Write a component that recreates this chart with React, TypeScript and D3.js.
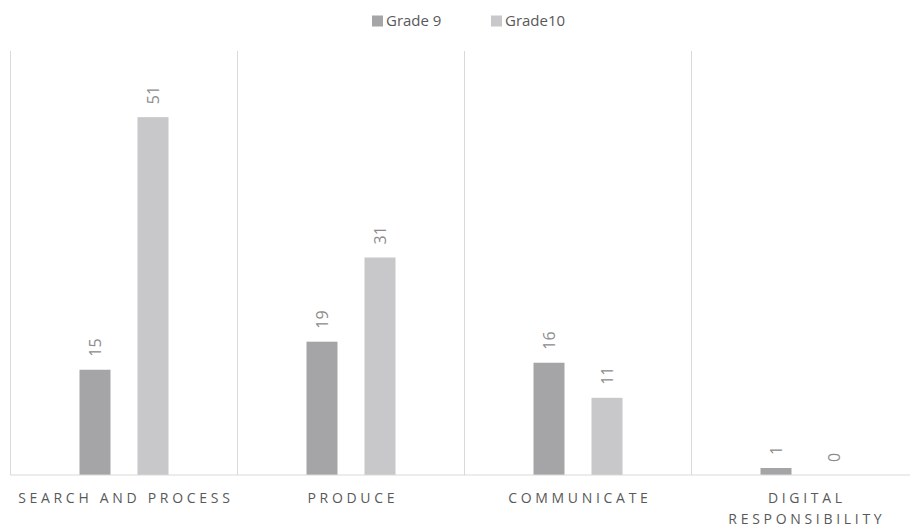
import React, { useEffect, useRef } from "react";
import * as d3 from "d3";

const categories = ["SEARCH AND PROCESS", "PRODUCE", "COMMUNICATE", "DIGITAL RESPONSIBILITY"];
const seriesNames = ["Grade 9", "Grade10"];
const grade9 = [15, 19, 16, 1];
const grade10 = [51, 31, 11, 0];
const colors = ["#a5a5a7", "#c8c8ca"];

const W = 910;
const H = 528;

export default function App() {
  const ref = useRef<SVGSVGElement>(null);

  useEffect(() => {
    const svg = d3.select(ref.current);
    svg.selectAll("*").remove();
    const font = "'Open Sans', 'Noto Sans', sans-serif";

    const left = 10.5;
    const catW = 227;
    const right = left + catW * categories.length;
    const baseY = 475;
    const topY = 51;

    const x = d3.scaleBand<string>().domain(categories).range([left, right]).paddingInner(0).paddingOuter(0);
    const x1 = d3.scaleBand<string>().domain(seriesNames).range([-44.5, 44.5]).paddingInner(27 / 58).paddingOuter(0);
    const y = d3.scaleLinear().domain([0, 60]).range([baseY, 54]);

    const data = categories.map((c, i) => ({ cat: c, vals: [grade9[i], grade10[i]] }));

    const g = svg.append("g");
    const seps = d3.range(categories.length + 1).map((i) => left + i * catW);
    g.selectAll("line.sep")
      .data(seps)
      .enter()
      .append("line")
      .attr("x1", (d) => d)
      .attr("x2", (d) => d)
      .attr("y1", topY)
      .attr("y2", baseY)
      .attr("stroke", "#d9d9d9")
      .attr("stroke-width", 1);

    const groups = g
      .selectAll("g.cat")
      .data(data)
      .enter()
      .append("g")
      .attr("transform", (d) => `translate(${x(d.cat)! + x.bandwidth() / 2},0)`);

    groups
      .selectAll("rect")
      .data((d) => d.vals.map((v, j) => ({ v, j })))
      .enter()
      .append("rect")
      .attr("x", (d) => x1(seriesNames[d.j])!)
      .attr("width", x1.bandwidth())
      .attr("y", (d) => y(d.v))
      .attr("height", (d) => baseY - y(d.v))
      .attr("fill", (d) => colors[d.j]);

    groups
      .selectAll("text.lbl")
      .data((d) => d.vals.map((v, j) => ({ v, j })))
      .enter()
      .append("text")
      .attr("transform", (d) => `translate(${x1(seriesNames[d.j])! + x1.bandwidth() / 2},${y(d.v) - 13}) rotate(-90)`)
      .attr("dy", "0.36em")
      .attr("text-anchor", "start")
      .attr("font-family", font)
      .attr("font-size", 16)
      .attr("fill", "#8c8c8c")
      .text((d) => String(d.v));

    g.append("line")
      .attr("x1", left)
      .attr("x2", W + 20)
      .attr("y1", baseY)
      .attr("y2", baseY)
      .attr("stroke", "#d9d9d9")
      .attr("stroke-width", 1);

    const spacing = 3.7;
    const catText = g
      .selectAll("text.cat")
      .data(categories)
      .enter()
      .append("text")
      .attr("x", (d) => x(d)! + x.bandwidth() / 2 + spacing / 2)
      .attr("y", 503)
      .attr("text-anchor", "middle")
      .attr("font-family", font)
      .attr("font-size", 14)
      .attr("fill", "#595959");

    catText.each(function (d) {
      const t = d3.select(this);
      const words = d.split(" ");
      const cx = +t.attr("x");
      let line: string[] = [];
      let tspan = t.append("tspan").attr("x", cx).attr("dy", 0);
      for (const w of words) {
        line.push(w);
        const s = line.join(" ");
        tspan.text(s);
        const len = (tspan.node() as SVGTSpanElement).getComputedTextLength() + spacing * s.length;
        if (len > x.bandwidth() - 4 && line.length > 1) {
          line.pop();
          tspan.text(line.join(" "));
          line = [w];
          tspan = t.append("tspan").attr("x", cx).attr("dy", 21).text(w);
        }
      }
    });
    catText.attr("letter-spacing", spacing);

    const legend = svg.append("g");
    const items = [
      { name: seriesNames[0], color: colors[0], x: 372 },
      { name: seriesNames[1], color: colors[1], x: 491 },
    ];
    const li = legend.selectAll("g").data(items).enter().append("g").attr("transform", (d) => `translate(${d.x},0)`);
    li.append("rect").attr("x", 0).attr("y", 15.5).attr("width", 11).attr("height", 11).attr("fill", (d) => d.color);
    li.append("text")
      .attr("x", 14)
      .attr("y", 21)
      .attr("dy", "0.36em")
      .attr("font-family", font)
      .attr("font-size", 15)
      .attr("fill", "#595959")
      .text((d) => d.name);
  }, []);

  return (
    <svg
      ref={ref}
      width={W}
      height={H}
      style={{ position: "absolute", left: 0, top: 0, background: "#fff" }}
    />
  );
}
